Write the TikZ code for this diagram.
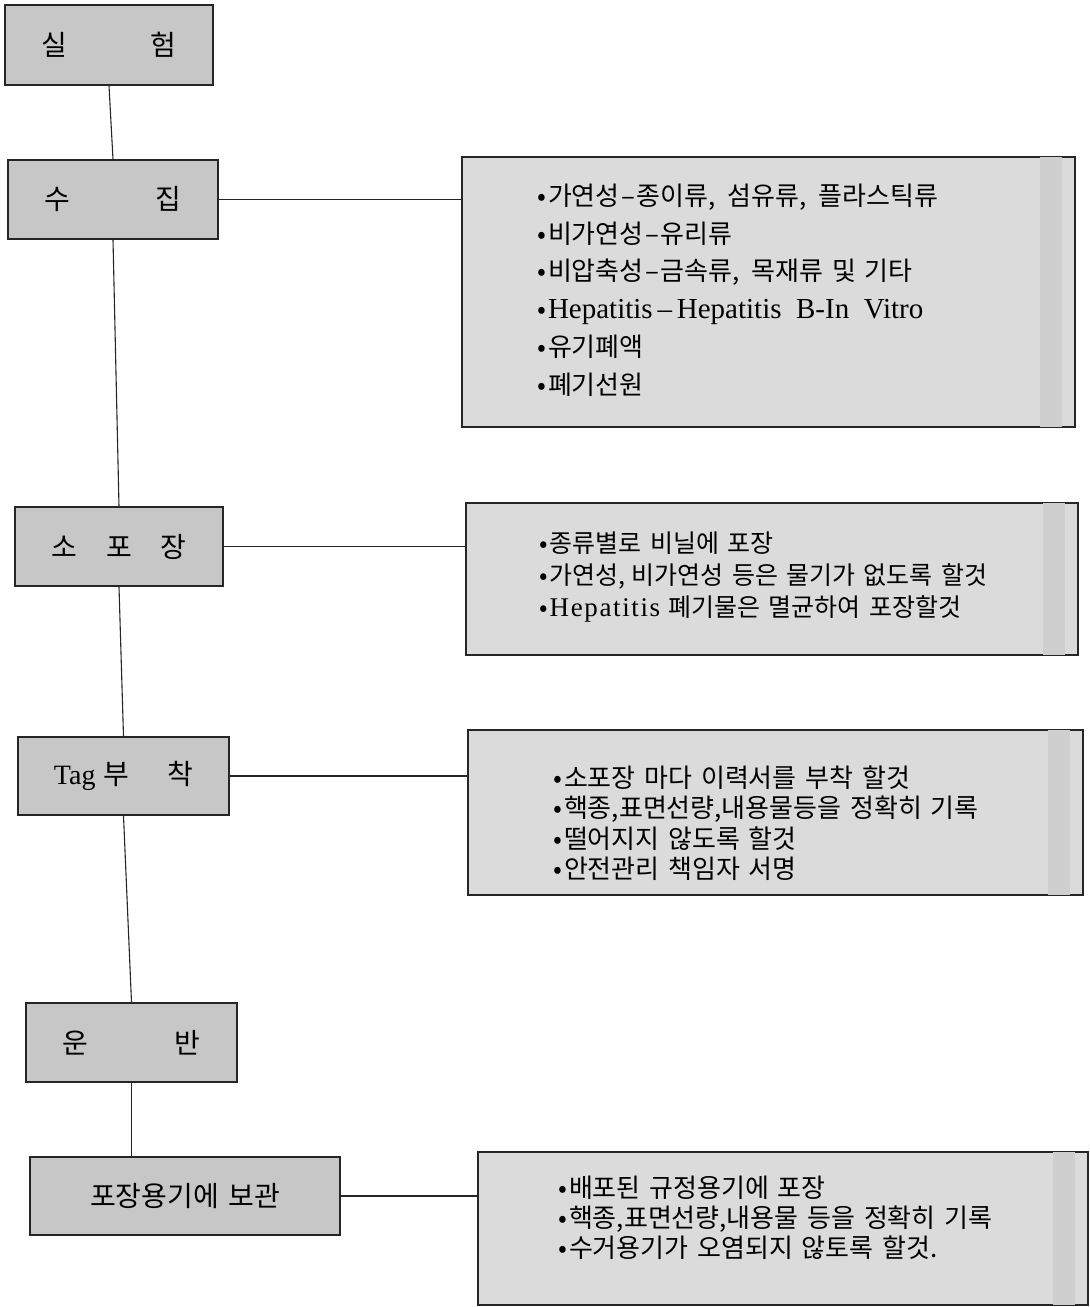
\documentclass[tikz,border=0pt]{standalone}
\usepackage{fontspec}
\setmainfont{Liberation Serif}
\newfontfamily\kr[WordSpace=1.5]{Noto Sans CJK KR}
\newfontfamily\latsp[LetterSpace=6]{Liberation Serif}
\newcommand\krsz[1]{\kr\fontsize{#1}{#1}\selectfont}
\newcommand\bul{•\hspace{2pt}}
\newcommand\krdash{\hspace{1.5pt}–\hspace{1.5pt}}
\tikzset{
  lbox/.style={draw=black!85, line width=1.3pt, fill=black!22, inner sep=0pt, font=\krsz{28}},
  rbox/.style={draw=black!85, line width=1.3pt, fill=black!14, inner sep=0pt},
  band/.style={fill=black!19, draw=none},
  item/.style={anchor=base west, inner sep=0pt},
  link/.style={line width=1.1pt, draw=black!85}
}
\begin{document}
\begin{tikzpicture}[x=1pt,y=-1pt]
\useasboundingbox (0,0) rectangle (1090,1307);
\fill[white] (0,0) rectangle (1090,1307);

% left column boxes
\node[lbox, minimum width=208pt, minimum height=80pt] (n1) at (109,45) {실\hspace{84pt}험};
\node[lbox, minimum width=210pt, minimum height=79pt] (n2) at (113,199.5) {수\hspace{85pt}집};
\node[lbox, minimum width=208pt, minimum height=79pt] (n3) at (119,546.5) {소\hspace{29pt}포\hspace{29pt}장};
\node[lbox, minimum width=211pt, minimum height=78pt] (n4) at (123.5,776) {{\rmfamily Tag}\hspace{8pt}부\hspace{38pt}착};
\node[lbox, minimum width=211pt, minimum height=79pt] (n5) at (131.5,1042.5) {운\hspace{86pt}반};
\node[lbox, minimum width=310pt, minimum height=78pt] (n6) at (185,1196) {포장용기에 보관};

% right column boxes
\node[rbox, minimum width=613pt, minimum height=270pt] (r1) at (768.5,292) {};
\node[rbox, minimum width=612pt, minimum height=152pt] (r2) at (772,579) {};
\node[rbox, minimum width=615pt, minimum height=165pt] (r3) at (775.5,812.5) {};
\node[rbox, minimum width=610pt, minimum height=153pt] (r4) at (783,1228.5) {};
\foreach \b in {r1,r2,r3,r4}{
  \fill[band] ([xshift=-36pt,yshift=-0.7pt]\b.north east) rectangle ([xshift=-14pt,yshift=0.7pt]\b.south east);
}

% connectors
\draw[link] (n1.south) -- (n2.north);
\draw[link] (n2.south) -- (n3.north);
\draw[link] (n3.south) -- (n4.north);
\draw[link] (n4.south) -- (n5.north);
\draw[link] (n5.south) -- (n5.south |- n6.north);
\draw[link] (n2.east) -- (n2.east -| r1.west);
\draw[link] (n3.east) -- (n3.east -| r2.west);
\draw[link] (n4.east) -- (n4.east -| r3.west);
\draw[link] (n6.east) -- (n6.east -| r4.west);

% box 1 items
\begin{scope}[every node/.append style={font=\krsz{26}}]
\node[item] (a1) at (537,205) {\bul 가연성\krdash 종이류,\hspace{12pt}섬유류,\hspace{12pt}플라스틱류};
\node[item] (a2) at (537,243) {\bul 비가연성\krdash 유리류};
\node[item] (a3) at (537,280) {\bul 비압축성\krdash 금속류,\hspace{12pt}목재류 및 기타};
\node[item] (a4) at (537,318) {\bul{\rmfamily\fontsize{29}{29}\selectfont Hepatitis\,–\,Hepatitis\ \ B-In\ \ Vitro}};
\node[item] (a5) at (537,356) {\bul 유기폐액};
\node[item] (a6) at (537,394) {\bul 폐기선원};
\end{scope}

% box 2 items
\begin{scope}[every node/.append style={font=\krsz{25}}]
\node[item] (b1) at (539,552.5) {\bul 종류별로 비닐에 포장};
\node[item] (b2) at (539,584.5) {\bul 가연성,\hspace{6pt}비가연성 등은 물기가 없도록 할것};
\node[item] (b3) at (539,616.5) {\bul{\latsp\fontsize{27}{27}\selectfont Hepatitis} 폐기물은 멸균하여 포장할것};
\end{scope}

% box 3 items
\begin{scope}[every node/.append style={font=\krsz{26}}]
\node[item] (c1) at (553,787) {\bul 소포장 마다 이력서를 부착 할것};
\node[item] (c2) at (553,817) {\bul 핵종,표면선량,내용물등을 정확히 기록};
\node[item] (c3) at (553,848) {\bul 떨어지지 않도록 할것};
\node[item] (c4) at (553,878) {\bul 안전관리 책임자 서명};
\end{scope}

% box 4 items
\begin{scope}[every node/.append style={font=\krsz{26}}]
\node[item] (d1) at (558,1197) {\bul 배포된 규정용기에 포장};
\node[item] (d2) at (558,1227) {\bul 핵종,표면선량,내용물 등을 정확히 기록};
\node[item] (d3) at (558,1257) {\bul 수거용기가 오염되지 않토록 할것.};
\end{scope}
\end{tikzpicture}
\end{document}
